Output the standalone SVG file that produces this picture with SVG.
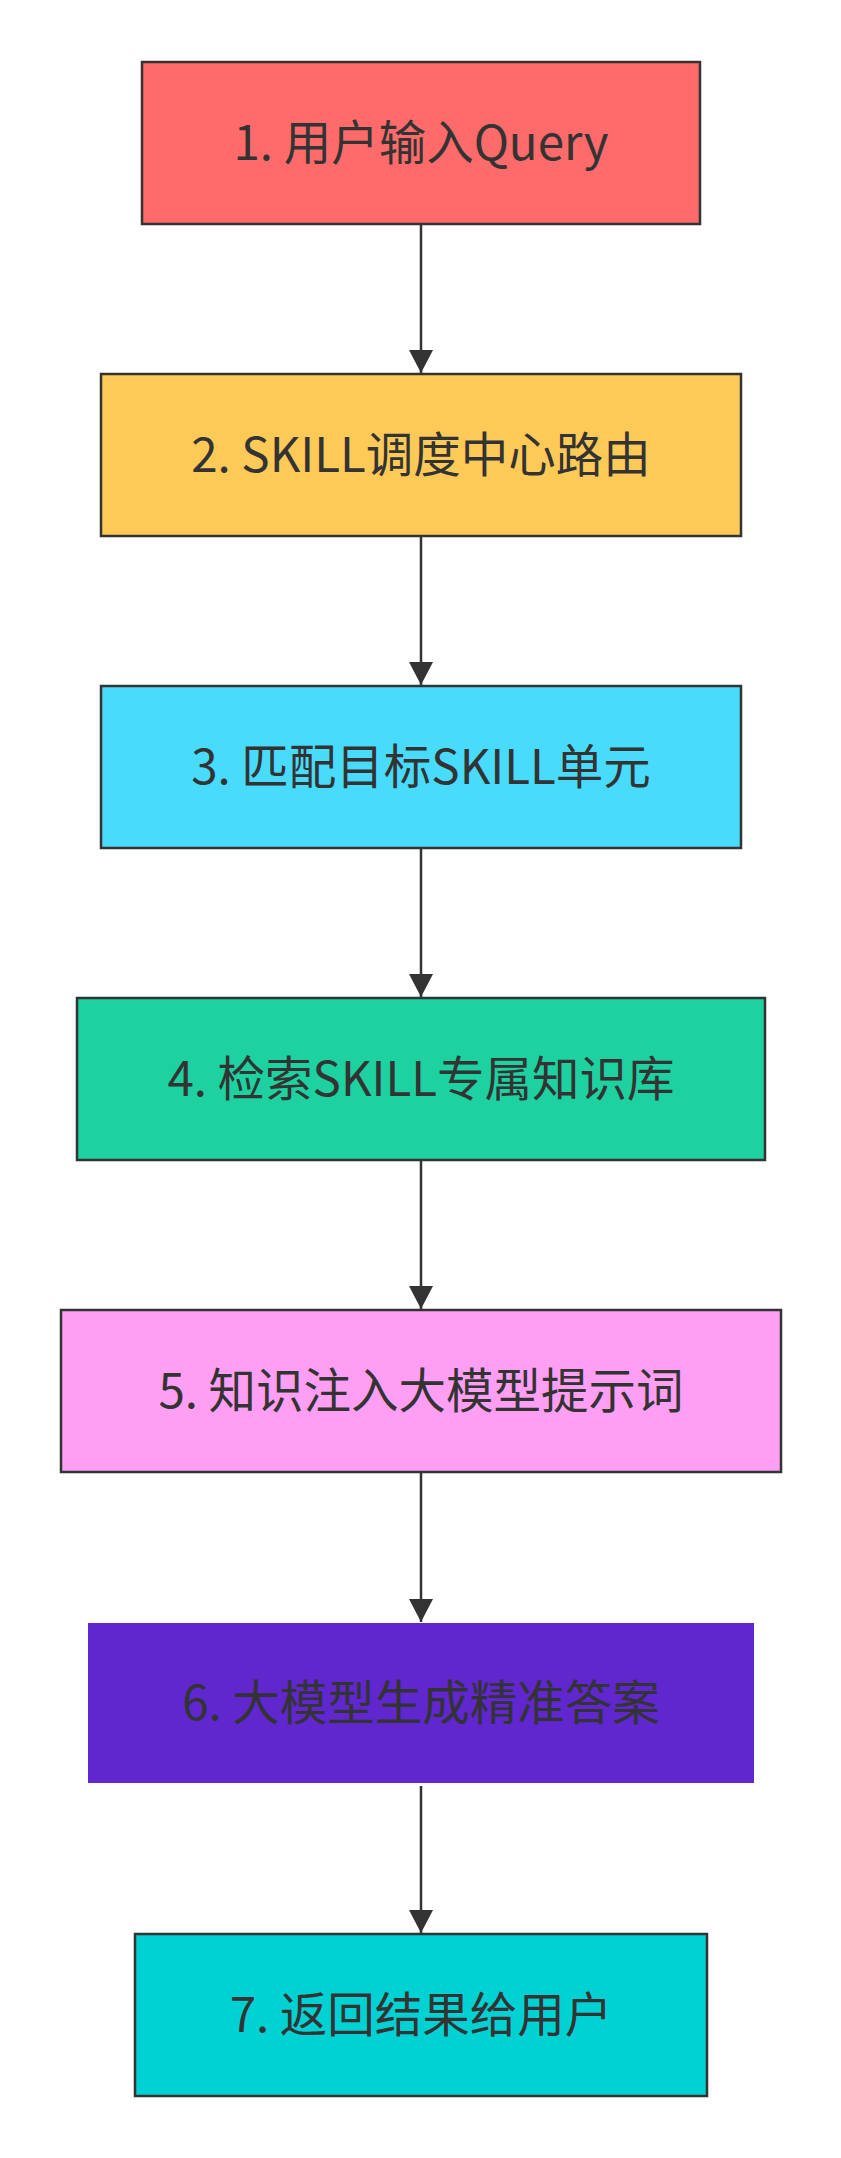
<svg xmlns="http://www.w3.org/2000/svg" width="841" height="2158" viewBox="0 0 841 2158">
<style>
.box{stroke:#333333;stroke-width:2.5}
.lbl{font-family:"Noto Sans CJK SC","Liberation Sans",sans-serif;font-size:47.5px;fill:#333333;text-anchor:middle}
.edge{stroke:#333333;stroke-width:2.5;fill:none}
</style>
<defs>
<marker id="arrow" viewBox="0 0 24 24" refX="23" refY="12" markerWidth="24" markerHeight="24" markerUnits="userSpaceOnUse" orient="auto">
<path d="M0,0 L23,12 L0,24 z" fill="#333333"/>
</marker>
</defs>
<rect width="841" height="2158" fill="#ffffff"/>
<g id="connectors">
<line class="edge" x1="421" y1="224" x2="421" y2="373" marker-end="url(#arrow)"/>
<line class="edge" x1="421" y1="536" x2="421" y2="685" marker-end="url(#arrow)"/>
<line class="edge" x1="421" y1="848" x2="421" y2="997" marker-end="url(#arrow)"/>
<line class="edge" x1="421" y1="1160" x2="421" y2="1309" marker-end="url(#arrow)"/>
<line class="edge" x1="421" y1="1472" x2="421" y2="1622" marker-end="url(#arrow)"/>
<line class="edge" x1="421" y1="1786" x2="421" y2="1933" marker-end="url(#arrow)"/>
</g>
<g id="n1">
<rect class="box" x="142" y="62" width="558" height="162" fill="#ff6b6b"/>
<text class="lbl" x="421" y="160">1. 用户输入Query</text>
</g>
<g id="n2">
<rect class="box" x="101" y="374" width="640" height="162" fill="#feca57"/>
<text class="lbl" x="421" y="472">2. SKILL调度中心路由</text>
</g>
<g id="n3">
<rect class="box" x="101" y="686" width="640" height="162" fill="#48dbfb"/>
<text class="lbl" x="421" y="784">3. 匹配目标SKILL单元</text>
</g>
<g id="n4">
<rect class="box" x="77" y="998" width="688" height="162" fill="#1dd1a1"/>
<text class="lbl" x="421" y="1096">4. 检索SKILL专属知识库</text>
</g>
<g id="n5">
<rect class="box" x="61" y="1310" width="720" height="162" fill="#ff9ff3"/>
<text class="lbl" x="421" y="1408">5. 知识注入大模型提示词</text>
</g>
<g id="n6">
<rect x="88" y="1623" width="666" height="160" fill="#5f27cd"/>
<text class="lbl" x="421" y="1720">6. 大模型生成精准答案</text>
</g>
<g id="n7">
<rect class="box" x="135" y="1934" width="572" height="162" fill="#00d2d3"/>
<text class="lbl" x="421" y="2032">7. 返回结果给用户</text>
</g>
</svg>
